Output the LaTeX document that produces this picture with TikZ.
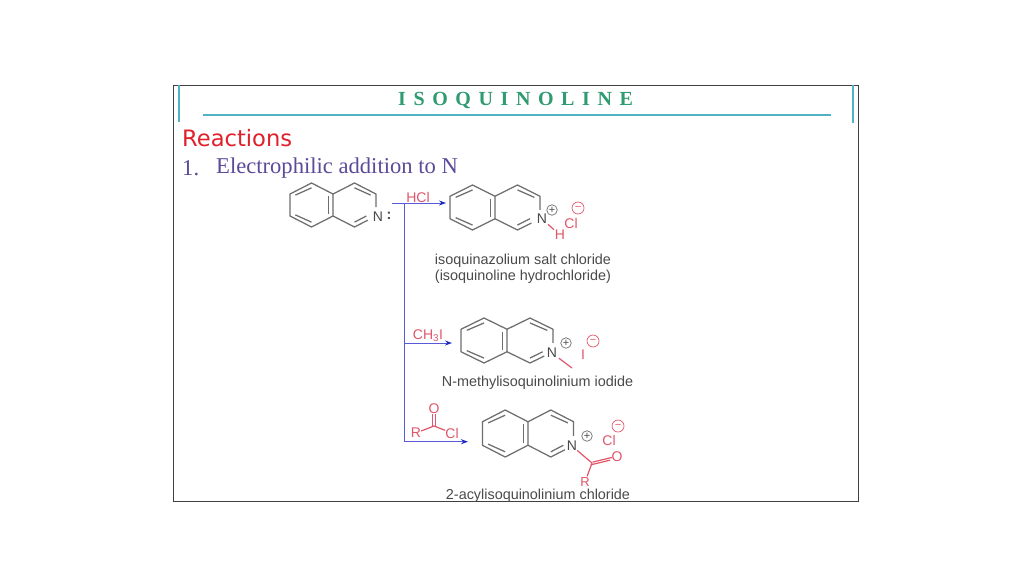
\documentclass[tikz,border=0pt]{standalone}
\usepackage{fontspec}
\setmainfont{Liberation Sans}
\newfontfamily\serifface{Liberation Serif}
\newfontfamily\titleface[LetterSpace=38]{Liberation Serif}
\newfontfamily\reactface{DejaVu Sans}
\usetikzlibrary{arrows.meta}
\definecolor{bondgray}{HTML}{6E6E6E}
\definecolor{labelgray}{HTML}{4A4A4A}
\definecolor{chemred}{HTML}{E0566A}
\definecolor{flowblue}{HTML}{5A5AD8}
\definecolor{arrowblue}{HTML}{1C2CC0}
\definecolor{tealbar}{HTML}{4FB3C4}
\definecolor{titlegreen}{HTML}{2E9B70}
\definecolor{headpurple}{HTML}{5C4A99}
\definecolor{headred}{HTML}{E0202A}
\tikzset{
  bond/.style={draw=bondgray,line width=1.25pt},
  redbond/.style={draw=chemred,line width=1.2pt},
  flow/.style={draw=flowblue,line width=0.9pt},
  flowarrow/.style={flow,-{Stealth[length=7pt,width=5pt,color=arrowblue]}},
  atom/.style={text=labelgray,font=\fontsize{14}{14}\selectfont,inner sep=0pt,yshift=-1pt},
  redatom/.style={text=chemred,font=\fontsize{14}{14}\selectfont,inner sep=0pt,yshift=-1pt},
  caption/.style={text=labelgray,font=\fontsize{14.4}{16}\selectfont,inner sep=0pt,align=center,yshift=-1pt},
  chargeplus/.style={circle,draw=bondgray,line width=.7pt,minimum size=10.5pt,inner sep=0pt,text=labelgray,font=\fontsize{11}{11}\selectfont},
  chargeminus/.style={circle,draw=chemred,line width=.7pt,minimum size=12pt,inner sep=0pt,text=chemred,font=\fontsize{11}{11}\selectfont},
}
\newcommand{\isoqring}[4]{%
  \begin{scope}[shift={(#1,#2)},xscale=#3,yscale=#4]
    \draw[bond,line join=round] (0,-.5) -- (-1,-1) -- (-2,-.5) -- (-2,.5) -- (-1,1) -- (0,.5) -- cycle;
    \draw[bond,line join=round] (2,.1) -- (2,-.5) -- (1,-1) -- (0,-.5);
    \draw[bond] (0,.5) -- (1,1) -- (1.62,.69);
    \draw[bond] (-1.75,-.45) -- (-1,-.78);
    \draw[bond] (-1.75,.45) -- (-1,.78);
    \draw[bond] (-.2,-.4) -- (-.2,.4);
    \draw[bond] (1,-.78) -- (1.75,-.45);
    \draw[bond] (1,.78) -- (1.55,.5);
  \end{scope}}
\begin{document}
\begin{tikzpicture}[x=1pt,y=-1pt]
\useasboundingbox (0,0) rectangle (1024,576);
\fill[white] (0,0) rectangle (1024,576);
\draw[draw=black!75,line width=.8pt] (173,85) rectangle (858,501);
\draw[tealbar,line width=2pt] (179,85) -- (179,122);
\draw[tealbar,line width=2pt] (853,85) -- (853,123);
\draw[tealbar,line width=2pt] (203,114.5) -- (831,114.5);
\node[anchor=west,inner sep=0pt,text=titlegreen,font=\titleface\bfseries\fontsize{20}{20}\selectfont] (title) at (398,100.5) {ISOQUINOLINE};
\node[anchor=west,inner sep=0pt,text=headred,font=\reactface\fontsize{22.6}{22.6}\selectfont] (reactions) at (182,138) {Reactions};
\node[anchor=west,inner sep=0pt,text=headpurple,font=\serifface\fontsize{22.6}{22.6}\selectfont] (one) at (182,168) {1.};
\node[anchor=west,inner sep=0pt,text=headpurple,font=\serifface\fontsize{22.6}{22.6}\selectfont] (head) at (216,168) {Electrophilic addition to N};
% molecules
\isoqring{333}{205}{21.5}{22}
\node[atom] (n1) at (378,216) {N};
\node[atom,font=\bfseries\fontsize{14.5}{14.5}\selectfont] (lp) at (389,215) {:};
\isoqring{495}{207.5}{22.5}{22.5}
\node[atom] (n2) at (542,218) {N};
\node[chargeplus] (p2) at (552,210) {+};
\node[redatom] (cl2) at (571,222) {Cl};
\node[chargeminus] (m2) at (578,208) {−};
\node[redatom] (h2) at (560,234) {H};
\draw[redbond,shorten <=1pt,shorten >=1pt] (n2) -- (h2);
\node[caption] (c2) at (523,268) {isoquinazolium salt chloride\\(isoquinoline hydrochloride)};
\isoqring{507}{340.5}{23}{22.5}
\node[atom] (n3) at (552,352) {N};
\node[chargeplus] (p3) at (566,343) {+};
\node[redatom] (i3) at (583,354) {I};
\node[chargeminus] (m3) at (593,341) {−};
\coordinate (me3) at (572,368);
\draw[redbond,shorten <=2pt] (n3) -- (me3);
\node[caption] (c3) at (537.5,381.5) {N-methylisoquinolinium iodide};
\isoqring{528}{433.5}{22.8}{23.5}
\node[atom] (n4) at (572,445) {N};
\node[chargeplus] (p4) at (587,436) {+};
\node[redatom] (cl4) at (609,439) {Cl};
\node[chargeminus] (m4) at (618,426) {−};
\coordinate (c4) at (592,463);
\node[redatom] (o4) at (617,456) {O};
\node[redatom,font=\fontsize{13}{13}\selectfont] (r4) at (585,481) {R};
\draw[redbond] (n4) -- (c4);
\draw[redbond,shorten >=1pt] (c4) -- (r4);
\draw[redbond,transform canvas={shift={(-1.2pt,-1.8pt)}}] (c4) -- (o4);
\draw[redbond,transform canvas={shift={(.6pt,.9pt)}}] (c4) -- (o4);
\node[caption] (c4cap) at (538,494.5) {2-acylisoquinolinium chloride};
% reagents
\node[redatom] (hcl) at (418,196) {HCl};
\node[redatom] (mei) at (428,335) {CH\textsubscript{3}I};
\node[redatom] (rr) at (416,432) {R};
\coordinate (rc) at (434,426);
\node[redatom] (ro) at (434,408) {O};
\node[redatom] (rcl) at (452,432) {Cl};
\draw[redbond] (rr) -- (rc);
\draw[redbond] (rc) -- (rcl);
\draw[redbond,transform canvas={shift={(-1.5pt,0pt)}}] (rc) -- (ro);
\draw[redbond,transform canvas={shift={(1.5pt,0pt)}}] (rc) -- (ro);
% flow lines
\coordinate (s0) at (392,203);
\coordinate (hub) at (404,203);
\coordinate (a1) at (446,203);
\coordinate (b2) at (404,343);
\coordinate (a2) at (452,343);
\coordinate (b3) at (404,441.7);
\coordinate (a3) at (468,441.7);
\draw[flowarrow] (s0) -- (a1);
\draw[flow] (hub) -- (b3);
\draw[flowarrow] (b2) -- (a2);
\draw[flowarrow] (b3) -- (a3);
\end{tikzpicture}
\end{document}
